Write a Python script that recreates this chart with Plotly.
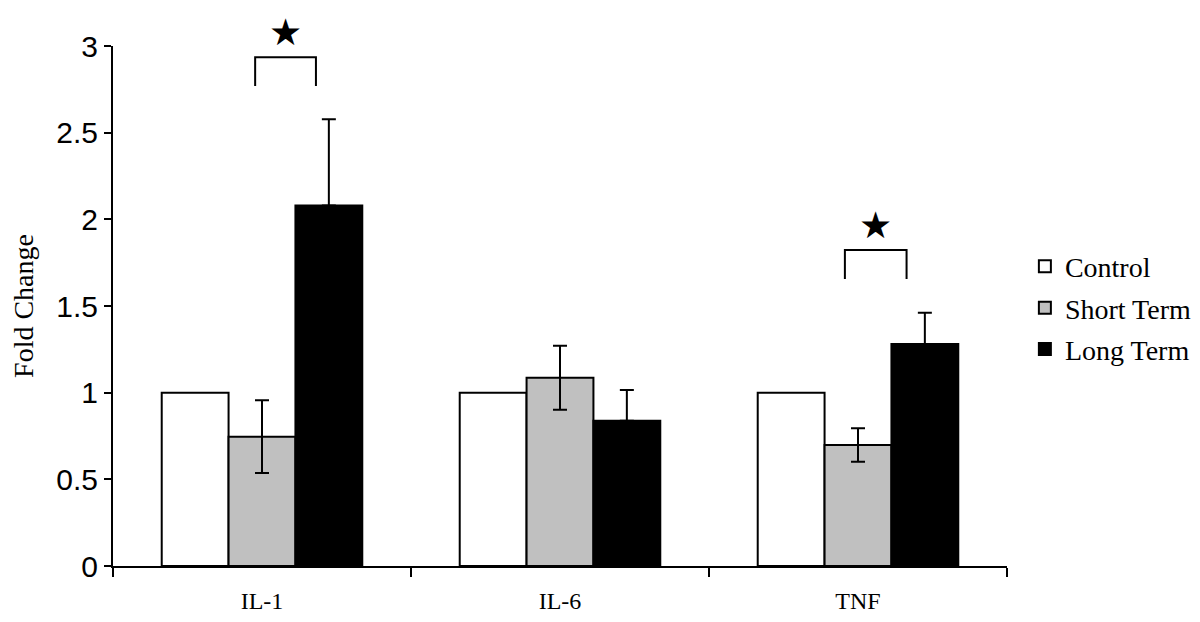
import plotly.graph_objects as go

categories = ["IL-1", "IL-6", "TNF"]
series_names = ["Control", "Short Term", "Long Term"]
control = [1.0, 1.0, 1.0]
short_term = [0.746, 1.086, 0.698]
short_err = [0.21, 0.185, 0.096]
long_term = [2.08, 0.838, 1.281]
long_err = [0.497, 0.177, 0.18]

fills = ["#ffffff", "#c0c0c0", "#000000"]

fig = go.Figure()
fig.add_trace(go.Bar(name=series_names[0], x=categories, y=control,
                     marker=dict(color=fills[0], line=dict(color="black", width=2)),
                     legendgroup="a"))
fig.add_trace(go.Bar(name=series_names[1], x=categories, y=short_term,
                     marker=dict(color=fills[1], line=dict(color="black", width=2)),
                     error_y=dict(type="data", array=short_err, color="black", thickness=2, width=7),
                     legendgroup="b"))
fig.add_trace(go.Bar(name=series_names[2], x=categories, y=long_term,
                     marker=dict(color=fills[2], line=dict(color="black", width=2)),
                     error_y=dict(type="data", array=long_err, arrayminus=[0, 0, 0], symmetric=False,
                                  color="black", thickness=2, width=7),
                     legendgroup="c"))

# significance brackets: (category index, left offset, right offset, top, bottom)
brackets = [(0, -0.023, 0.181, 2.935, 2.769), (2, -0.044, 0.163, 1.823, 1.656)]
for ci, d0, d1, ytop, ybot in brackets:
    x0, x1 = ci + d0, ci + d1
    fig.add_shape(type="path", xref="x", yref="y",
                  path=f"M {x0},{ybot} L {x0},{ytop} L {x1},{ytop} L {x1},{ybot}",
                  line=dict(color="black", width=2))
    fig.add_annotation(x=(x0 + x1) / 2, y=ytop, xref="x", yref="y", text="★", showarrow=False,
                       yanchor="middle", yshift=25,
                       font=dict(family="DejaVu Sans", size=37, color="black"))

fig.update_layout(
    width=1184, height=606,
    margin=dict(l=105, r=185, t=38, b=48, autoexpand=False),
    plot_bgcolor="white", paper_bgcolor="white",
    barmode="group", bargap=0.327, bargroupgap=0,
    showlegend=True,
    legend=dict(x=1.02, xanchor="left", y=0.496, yanchor="middle",
                font=dict(family="Liberation Serif", size=28, color="black"),
                tracegroupgap=2, traceorder="grouped", itemwidth=30),
    xaxis=dict(range=[-0.5, 2.5], showline=True, linecolor="black", linewidth=2,
               ticks="outside", tickson="boundaries", ticklen=9, tickwidth=2, tickcolor="black",
               tickfont=dict(family="Liberation Serif", size=24, color="black"),
               ticklabelstandoff=12, showgrid=False, zeroline=False, automargin=False),
    yaxis=dict(range=[0, 3], showline=True, linecolor="black", linewidth=2,
               tickvals=[0, 0.5, 1, 1.5, 2, 2.5, 3], ticktext=["0", "0.5", "1", "1.5", "2", "2.5", "3"],
               ticks="outside", ticklen=7, tickwidth=2, tickcolor="black",
               tickfont=dict(family="Liberation Sans", size=30, color="black"),
               showgrid=False, zeroline=False, automargin=False,
               title=dict(text="Fold Change", standoff=18,
                          font=dict(family="Liberation Serif", size=28, color="black"))),
)

fig.write_html("out.html")
